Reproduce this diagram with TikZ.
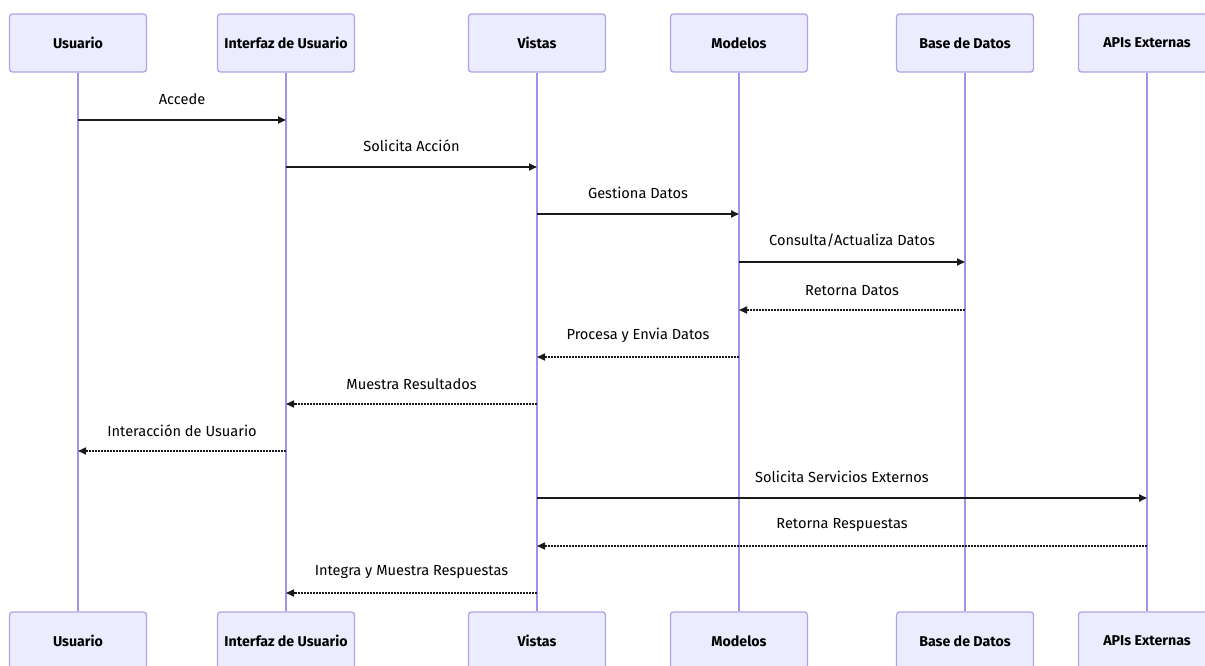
\documentclass[tikz,border=0pt]{standalone}
\usepackage{fontspec}
\setmainfont{Fira Sans}
\usetikzlibrary{arrows.meta}
\definecolor{actfill}{HTML}{ECECFF}
\definecolor{actline}{HTML}{B3A2E6}
\definecolor{lifeline}{HTML}{A890E8}
\definecolor{msgcol}{HTML}{1A1A1A}
\tikzset{
  actor/.style={draw=actline, fill=actfill, line width=1.3pt, rounded corners=3pt,
    minimum width=137pt, minimum height=58pt, inner sep=0pt,
    font=\fontsize{14.2}{16}\selectfont\bfseries, text=black},
  life/.style={draw=lifeline, line width=1.6pt},
  msg/.style={draw=msgcol, line width=1.8pt, -{Triangle[length=8pt,width=7pt]}},
  reply/.style={msg, line width=1.6pt, dash pattern=on 1.6pt off 1.4pt},
  lbl/.style={font=\fontsize{14.6}{16}\selectfont, text=black, inner sep=0pt}
}
\begin{document}
\begin{tikzpicture}[x=1pt,y=-1pt]
\useasboundingbox (0,0) rectangle (1205,666);
\clip (0,0) rectangle (1205,666);
\fill[white] (0,0) rectangle (1205,666);
% participants, top row
\node[actor] (t1) at (78,43) {Usuario};
\node[actor] (t2) at (286,43) {Interfaz de Usuario};
\node[actor] (t3) at (537,43) {Vistas};
\node[actor] (t4) at (739,43) {Modelos};
\node[actor] (t5) at (965,43) {Base de Datos};
\node[actor] (t6) at (1147,43) {APIs Externas};
% participants, bottom row
\node[actor] (b1) at (78,641) {Usuario};
\node[actor] (b2) at (286,641) {Interfaz de Usuario};
\node[actor] (b3) at (537,641) {Vistas};
\node[actor] (b4) at (739,641) {Modelos};
\node[actor] (b5) at (965,641) {Base de Datos};
\node[actor] (b6) at (1147,641) {APIs Externas};
% lifelines
\foreach \i in {1,...,6} { \draw[life] (t\i.south) -- (b\i.north); }
% messages
\draw[msg] (t1 |- 0,120) -- (t2 |- 0,120) node[lbl, midway, above=14pt] {Accede};
\draw[msg] (t2 |- 0,167) -- (t3 |- 0,167) node[lbl, midway, above=14pt] {Solicita Acción};
\draw[msg] (t3 |- 0,214) -- (t4 |- 0,214) node[lbl, midway, above=14pt] {Gestiona Datos};
\draw[msg] (t4 |- 0,262) -- (t5 |- 0,262) node[lbl, midway, above=14pt] {Consulta/Actualiza Datos};
\draw[reply] (t5 |- 0,310) -- (t4 |- 0,310) node[lbl, midway, above=14pt] {Retorna Datos};
\draw[reply] (t4 |- 0,357) -- (t3 |- 0,357) node[lbl, midway, above=14pt] {Procesa y Envia Datos};
\draw[reply] (t3 |- 0,404) -- (t2 |- 0,404) node[lbl, midway, above=14pt] {Muestra Resultados};
\draw[reply] (t2 |- 0,451) -- (t1 |- 0,451) node[lbl, midway, above=14pt] {Interacción de Usuario};
\draw[msg] (t3 |- 0,498) -- (t6 |- 0,498) node[lbl, midway, above=14pt] {Solicita Servicios Externos};
\draw[reply] (t6 |- 0,546) -- (t3 |- 0,546) node[lbl, midway, above=14pt] {Retorna Respuestas};
\draw[reply] (t3 |- 0,593) -- (t2 |- 0,593) node[lbl, midway, above=14pt] {Integra y Muestra Respuestas};
\end{tikzpicture}
\end{document}
